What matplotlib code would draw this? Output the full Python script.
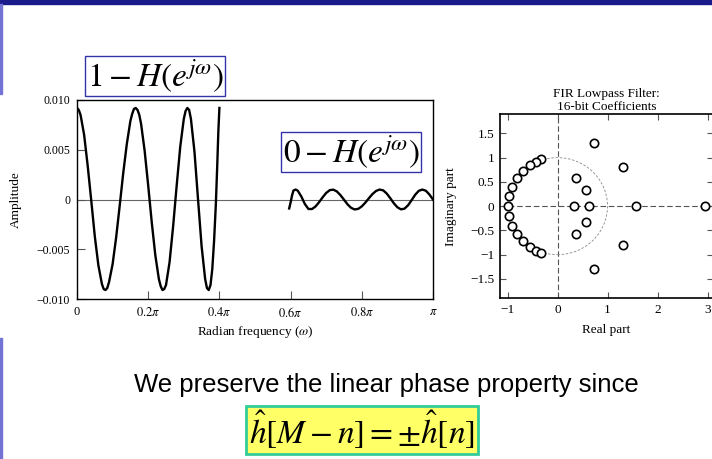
import matplotlib
matplotlib.use("Agg")
import matplotlib.pyplot as plt
import numpy as np
from matplotlib.patches import Circle, Rectangle

plt.rcParams['font.family'] = ['Liberation Serif', 'DejaVu Serif']
plt.rcParams['mathtext.fontset'] = 'stix'

# ---- error curve (frequency in units of pi) ----
W_PASS = [0.00, 0.005, 0.01, 0.02, 0.03, 0.04, 0.05, 0.06, 0.07, 0.075, 0.08, 0.085, 0.09,
          0.10, 0.11, 0.12, 0.13, 0.14, 0.15, 0.155, 0.16, 0.165, 0.17, 0.175, 0.18, 0.19,
          0.20, 0.21, 0.22, 0.23, 0.235, 0.24, 0.245, 0.25, 0.26, 0.27, 0.28, 0.29,
          0.30, 0.305, 0.31, 0.315, 0.32, 0.33, 0.34, 0.35, 0.36, 0.365, 0.37, 0.375, 0.38,
          0.385, 0.39, 0.394, 0.397, 0.40]
E_PASS = [0.0092, 0.0090, 0.0085, 0.0065, 0.0034, -0.0001, -0.0037, -0.0066, -0.0085, -0.0090, -0.0091, -0.0089, -0.0083,
          -0.0065, -0.0038, -0.0006, 0.0027, 0.0056, 0.0079, 0.0086, 0.0091, 0.0092, 0.0090, 0.0085, 0.0076, 0.0049,
          0.0014, -0.0023, -0.0056, -0.0080, -0.0087, -0.0091, -0.0090, -0.0086, -0.0063, -0.0027, 0.0014, 0.0053,
          0.0081, 0.0089, 0.0092, 0.0090, 0.0081, 0.0048, 0.0000, -0.0047, -0.0080, -0.0089, -0.0091, -0.0086, -0.0070,
          -0.0042, -0.0005, 0.0035, 0.0068, 0.0092]

W_STOP = [0.596, 0.600, 0.604, 0.608, 0.614, 0.62, 0.63, 0.64, 0.65, 0.66,
          0.67, 0.68, 0.69, 0.70, 0.71, 0.72, 0.73, 0.74, 0.75, 0.76,
          0.77, 0.78, 0.79, 0.80, 0.81, 0.82, 0.83, 0.84, 0.85, 0.86,
          0.87, 0.88, 0.89, 0.90, 0.91, 0.92, 0.93, 0.94, 0.95, 0.96,
          0.97, 0.98, 0.99, 1.00]
E_STOP = [-0.0009, -0.0003, 0.0004, 0.0009, 0.0010, 0.00089, 0.00031, -0.00045, -0.00095, -0.00096,
          -0.00070, -0.00027, 0.00022, 0.00066, 0.00094, 0.00099, 0.00081, 0.00044, -0.00002, -0.00049,
          -0.00084, -0.00100, -0.00094, -0.00069, -0.00031, 0.00013, 0.00055, 0.00086, 0.00100, 0.00092,
          0.00060, 0.00013, -0.00038, -0.00078, -0.00099, -0.00092, -0.00058, -0.00006, 0.00048, 0.00087,
          0.00100, 0.00088, 0.00050, 0.00000]

AMP_TICKS = [-0.010, -0.005, 0, 0.005, 0.010]
AMP_LABELS = ['\u22120.010', '\u22120.005', '0', '0.005', '0.010']
FREQ_TICKS = [0, 0.2, 0.4, 0.6, 0.8, 1.0]
FREQ_LABELS = ['0', r'$0.2\pi$', r'$0.4\pi$', r'$0.6\pi$', r'$0.8\pi$', r'$\pi$']

# ---- zeros of the 16-bit filter ----
ZEROS_RE = [-0.326, -0.44, -0.56, -0.688, -0.808, -0.908, -0.974, -1.0,
            -0.974, -0.908, -0.808, -0.688, -0.56, -0.44, -0.326,
            0.333, 0.63, 1.566, 2.95,
            0.36, 0.36, 0.56, 0.56, 0.733, 0.733, 1.306, 1.306]
ZEROS_IM = [0.969, 0.92, 0.845, 0.726, 0.58, 0.40, 0.20, 0.0,
            -0.20, -0.40, -0.58, -0.726, -0.845, -0.92, -0.969,
            0.0, 0.0, 0.0, 0.0,
            0.575, -0.575, 0.33, -0.33, 1.294, -1.294, 0.81, -0.81]

RE_TICKS = [-1, 0, 1, 2, 3]
RE_LABELS = ['\u22121', '0', '1', '2', '3']
IM_TICKS = [-1.5, -1, -0.5, 0, 0.5, 1, 1.5]
IM_LABELS = ['\u22121.5', '\u22121', '\u22120.5', '0', '0.5', '1', '1.5']

W, H = 712, 459


def fx(px):
    return px / W


def fy(py):
    return 1 - py / H


fig = plt.figure(figsize=(W / 100, H / 100), dpi=100)

# slide decoration
fig.patches.append(Rectangle((0, fy(3.5)), 1, 3.5 / H, transform=fig.transFigure,
                             color='#1a1a8a', zorder=0))
fig.patches.append(Rectangle((0, fy(94)), 1.5 / W, 90 / H, transform=fig.transFigure,
                             color='#7373d6', zorder=0))
fig.patches.append(Rectangle((0, 0), 1.5 / W, fy(338), transform=fig.transFigure,
                             color='#7373d6', zorder=0))

# ---- left: approximation error ----
ax1 = fig.add_axes([fx(77), fy(299), 356 / W, 199 / H])
ax1.axhline(0, color='#666666', lw=0.8, zorder=1)
ax1.plot(np.array(W_PASS) * np.pi, E_PASS, color='black', lw=1.7, zorder=3,
         solid_joinstyle='round')
ax1.plot(np.array(W_STOP) * np.pi, E_STOP, color='black', lw=1.7, zorder=3,
         solid_joinstyle='round')
ax1.set_xlim(0, np.pi)
ax1.set_ylim(-0.010, 0.010)
ax1.set_xticks(np.array(FREQ_TICKS) * np.pi)
ax1.set_xticklabels(FREQ_LABELS, fontsize=9)
ax1.set_yticks(AMP_TICKS)
ax1.set_yticklabels(AMP_LABELS, fontsize=8.5)
ax1.tick_params(direction='in', length=6, width=0.8, color='#555555', pad=5)
for s in ax1.spines.values():
    s.set_linewidth(1.0)
ax1.set_ylabel('Amplitude', fontsize=9.5)
ax1.yaxis.set_label_coords((22 - 77) / 356, 0.5)
ax1.set_xlabel(r'Radian frequency ($\omega$)', fontsize=9.5)
ax1.xaxis.set_label_coords(0.5, -(332 - 299) / 199)
ax1.xaxis.label.set_va('center')

# ---- right: zero plot ----
ax2 = fig.add_axes([fx(500), fy(298.3), 213 / W, 184.3 / H])
ax2.set_xlim(-1.15, 3.11)
ax2.set_ylim(-1.9, 1.9)
ax2.axhline(0, color='#555555', lw=0.8, dashes=(5, 2.5), zorder=1)
ax2.axvline(0, color='#555555', lw=0.8, dashes=(5, 2.5), zorder=1)
ax2.add_patch(Circle((0, 0), 1, fill=False, ec='#888888', lw=0.6,
                     ls=(0, (3, 2)), zorder=1))
ax2.plot(ZEROS_RE, ZEROS_IM, 'o', ms=6, mfc='white', mec='black', mew=1.2, zorder=3)
ax2.set_xticks(RE_TICKS)
ax2.set_xticklabels(RE_LABELS, fontsize=9.5)
ax2.set_yticks(IM_TICKS)
ax2.set_yticklabels(IM_LABELS, fontsize=9.5)
ax2.tick_params(direction='in', length=4.5, width=0.8, color='#555555', pad=4,
                top=True, right=True)
for s in ax2.spines.values():
    s.set_linewidth(1.2)
ax2.set_title('FIR Lowpass Filter:\n16-bit Coefficients', fontsize=9.5, pad=3,
              linespacing=1.05)
ax2.set_ylabel('Imaginary part', fontsize=9.5)
ax2.yaxis.set_label_coords((457 - 500) / 213, 0.5)
ax2.set_xlabel('Real part', fontsize=9.5)
ax2.xaxis.set_label_coords(0.5, -(330 - 298.3) / 184.3)
ax2.xaxis.label.set_va('center')

# ---- annotations ----
fig.text(fx(155), fy(76), r'$1-H(e^{j\omega})$', fontsize=24, ha='center', va='center',
         bbox=dict(boxstyle='square,pad=0.05', fc='white', ec='#3333aa', lw=1))
fig.text(fx(351), fy(152), r'$0-H(e^{j\omega})$', fontsize=24, ha='center', va='center',
         bbox=dict(boxstyle='square,pad=0.05', fc='white', ec='#3333aa', lw=1))

fig.text(fx(386), fy(385), 'We preserve the linear phase property since',
         fontsize=18.5, family='Liberation Sans', ha='center', va='center')
fig.text(fx(362), fy(430), r'$\hat{h}[M-n]=\pm\hat{h}[n]$', fontsize=24,
         ha='center', va='center',
         bbox=dict(boxstyle='square,pad=0.08', fc='#ffff66', ec='#33cc99', lw=2))

fig.savefig('out.png', dpi=100)
